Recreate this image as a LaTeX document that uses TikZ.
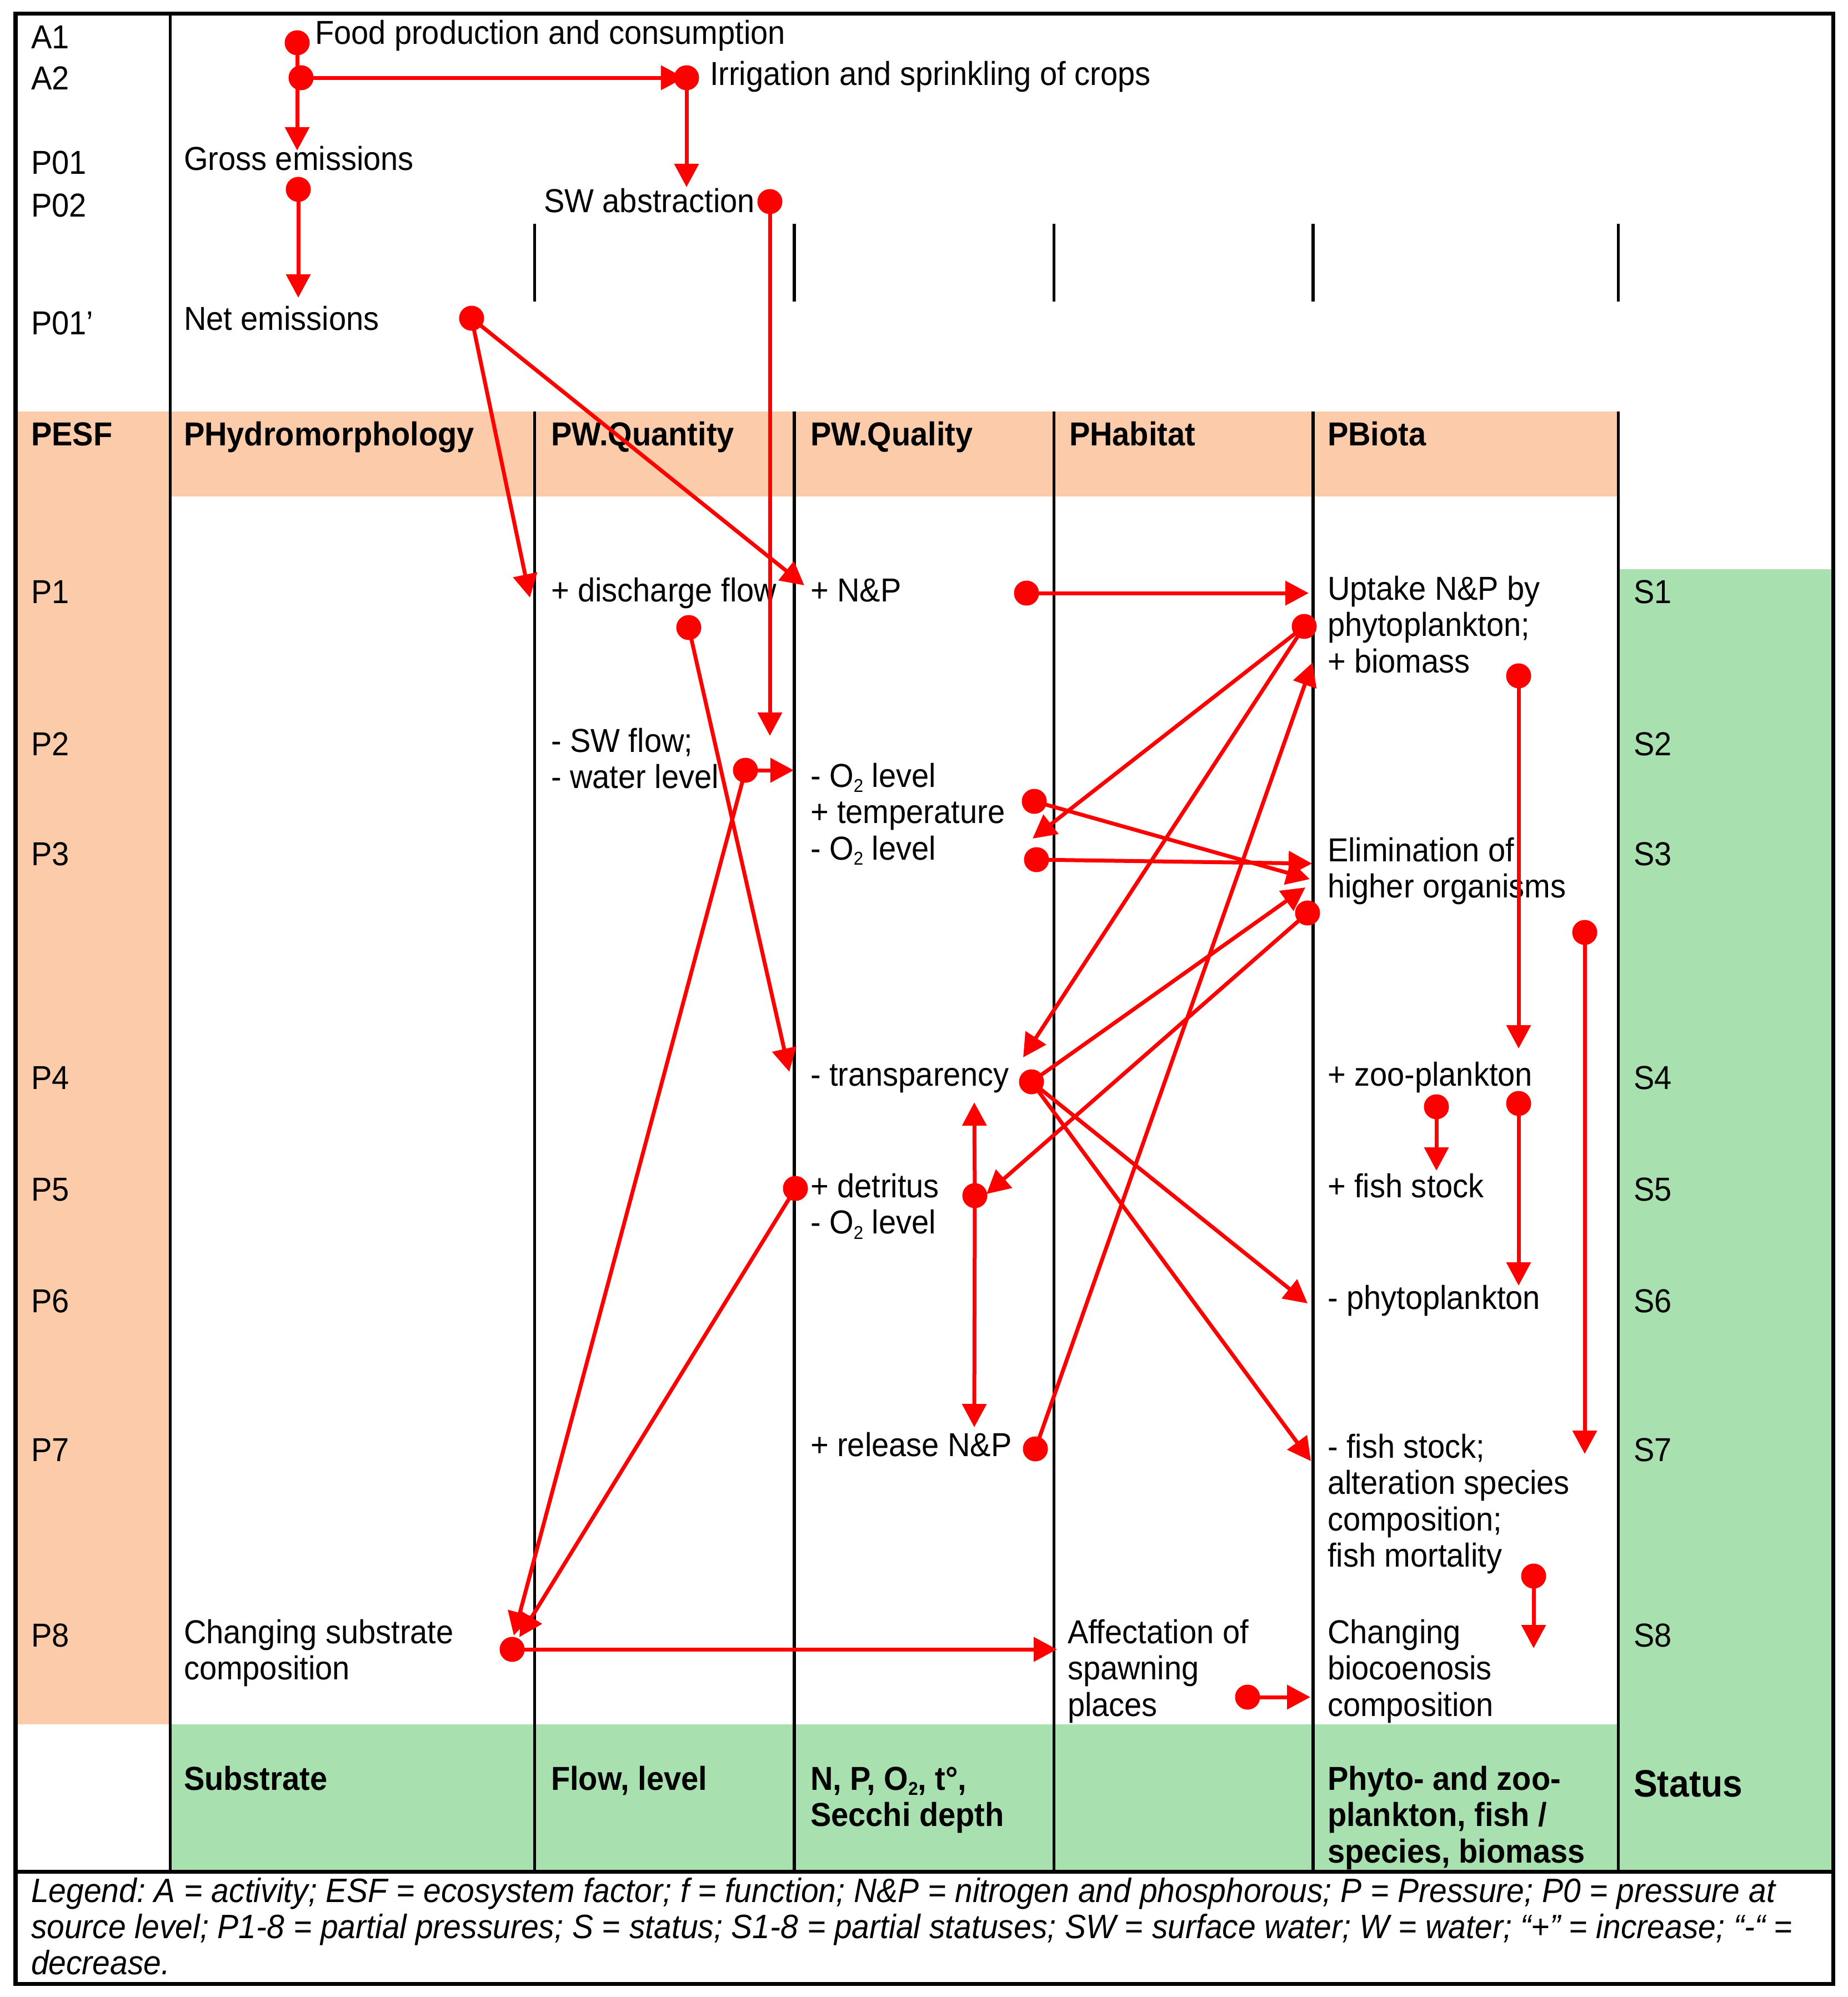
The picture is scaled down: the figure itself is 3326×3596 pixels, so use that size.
\documentclass[tikz,border=0pt]{standalone}
\usepackage{fontspec}
\setmainfont{Liberation Sans}[FakeStretch=0.937]
\usetikzlibrary{arrows.meta}
\definecolor{peach}{RGB}{252,204,170}
\definecolor{lgreen}{RGB}{168,225,175}
\definecolor{ared}{RGB}{255,0,0}
\newcommand{\mlines}[1]{\begin{tabular}[t]{@{}l@{}}#1\end{tabular}}
\newcommand{\subtwo}{\raisebox{-2.8pt}{\fontsize{9.5}{10}\selectfont 2}}
\frenchspacing
\begin{document}
\begin{tikzpicture}[x=0.01cm,y=-0.01cm,
  txt/.style={inner sep=0pt, outer sep=0pt, anchor=base west, font=\fontsize{17}{18.64}\selectfont},
  bld/.style={txt, font=\fontsize{17}{18.64}\selectfont\bfseries},
  big/.style={txt, font=\fontsize{19.5}{21}\selectfont\bfseries},
  leg/.style={txt, font=\fontsize{17.3}{18.64}\selectfont\itshape},
  colthin/.style={line width=0.05cm, black},
  colthick/.style={line width=0.065cm, black},
  frame/.style={line width=0.07cm, black},
  conn/.style={draw=ared, line width=0.07cm, -{Triangle[length=0.42cm,width=0.43cm]}},
  dot/.style={fill=ared}
]
\useasboundingbox (0,0) rectangle (3326,3596);
% backgrounds
\fill[peach] (28,741) rectangle (2913,894);
\fill[peach] (28,741) rectangle (306,3105);
\fill[lgreen] (306,3105) rectangle (2913,3370);
\fill[lgreen] (2913,1025) rectangle (3300,3370);
% column lines
\draw[colthin] (306,24) -- (306,3370);
\foreach \cx/\st in {962/colthin,1430/colthick,1897/colthin,2364/colthick,2913/colthin}{
  \draw[\st] (\cx,403) -- (\cx,543);
  \draw[\st] (\cx,741) -- (\cx,3370);
}
% row labels
\node[txt] (lA1) at (56,87) {A1};
\node[txt] (lA2) at (56,161) {A2};
\node[txt] (lP01) at (56,313) {P01};
\node[txt] (lP02) at (56,390) {P02};
\node[txt] (lP01b) at (56,602) {P01’};
\node[bld] (lPESF) at (56,802) {PESF};
\node[txt] (lP1) at (56,1086) {P1};
\node[txt] (lP2) at (56,1360) {P2};
\node[txt] (lP3) at (56,1558) {P3};
\node[txt] (lP4) at (56,1961) {P4};
\node[txt] (lP5) at (56,2162) {P5};
\node[txt] (lP6) at (56,2363) {P6};
\node[txt] (lP7) at (56,2631) {P7};
\node[txt] (lP8) at (56,2965) {P8};
% status labels
\node[txt] (lS1) at (2941,1086) {S1};
\node[txt] (lS2) at (2941,1360) {S2};
\node[txt] (lS3) at (2941,1558) {S3};
\node[txt] (lS4) at (2941,1961) {S4};
\node[txt] (lS5) at (2941,2162) {S5};
\node[txt] (lS6) at (2941,2363) {S6};
\node[txt] (lS7) at (2941,2631) {S7};
\node[txt] (lS8) at (2941,2965) {S8};
% top texts
\node[txt] (food) at (567,79) {Food production and consumption};
\node[txt] (irr) at (1278,153) {Irrigation and sprinkling of crops};
\node[txt] (gross) at (331,306) {Gross emissions};
\node[txt] (swab) at (979,382) {SW abstraction};
\node[txt] (net) at (331,594) {Net emissions};
% headers
\node[bld] (hHyd) at (331,802) {PHydromorphology};
\node[bld] (hQua) at (992,802) {PW.Quantity};
\node[bld] (hQal) at (1459,802) {PW.Quality};
\node[bld] (hHab) at (1925,802) {PHabitat};
\node[bld] (hBio) at (2390,802) {PBiota};
% cell texts
\node[txt] (disch) at (992,1083) {+ discharge flow};
\node[txt] (np) at (1459,1083) {+ N\&P};
\node[txt] (upt) at (2390,1080) {\mlines{Uptake N\&P by\\phytoplankton;\\+ biomass}};
\node[txt] (swf) at (992,1354) {\mlines{- SW flow;\\- water level}};
\node[txt] (o2a) at (1459,1417) {\mlines{- O\subtwo{} level\\+ temperature\\- O\subtwo{} level}};
\node[txt] (elim) at (2390,1551) {\mlines{Elimination of\\higher organisms}};
\node[txt] (trans) at (1459,1955) {- transparency};
\node[txt] (zoo) at (2390,1955) {+ zoo-plankton};
\node[txt] (detr) at (1459,2156) {\mlines{+ detritus\\- O\subtwo{} level}};
\node[txt] (fishp) at (2390,2156) {+ fish stock};
\node[txt] (phyto) at (2390,2357) {- phytoplankton};
\node[txt] (rel) at (1459,2622) {+ release N\&P};
\node[txt] (fishm) at (2390,2625) {\mlines{- fish stock;\\alteration species\\composition;\\fish mortality}};
\node[txt] (subs) at (331,2959) {\mlines{Changing substrate\\composition}};
\node[txt] (aff) at (1922,2959) {\mlines{Affectation of\\spawning\\places}};
\node[txt] (chg) at (2390,2959) {\mlines{Changing\\biocoenosis\\composition}};
% bottom row
\node[bld] (bSub) at (331,3223) {Substrate};
\node[bld] (bFlow) at (992,3223) {Flow, level};
\node[bld] (bNP) at (1459,3223) {\mlines{N, P, O\subtwo, t°,\\Secchi depth}};
\node[bld] (bPhy) at (2390,3223) {\mlines{Phyto- and zoo-\\plankton, fish /\\species, biomass}};
\node[big] (bStat) at (2941,3235) {Status};
% legend
\node[leg] (leg1) at (56,3425) {Legend: A = activity; ESF = ecosystem factor; f = function; N\&P = nitrogen and phosphorous; P = Pressure; P0 = pressure at};
\node[leg] (leg2) at (56,3490) {source level; P1-8 = partial pressures; S = status; S1-8 = partial statuses; SW = surface water; W = water; “+” = increase; “-“ =};
\node[leg] (leg3) at (56,3555) {decrease.};
% connector points
\coordinate (dA1) at (535,77);
\coordinate (dA2) at (542,140);
\coordinate (tGross) at (535,271);
\coordinate (dIrr) at (1236,140);
\coordinate (tIrrL) at (1232,140);
\coordinate (tSW) at (1236,337);
\coordinate (dGross) at (537,341);
\coordinate (tNet) at (537,536);
\coordinate (dSWa) at (1386,363);
\coordinate (tSWflow) at (1386,1325);
\coordinate (dNet) at (849,573);
\coordinate (tDis) at (954,1076);
\coordinate (tNP) at (1448,1054);
\coordinate (dNP) at (1848,1068);
\coordinate (tUpt) at (2356,1068);
\coordinate (dDis) at (1240,1130);
\coordinate (tTransL) at (1421,1930);
\coordinate (dWL) at (1342,1387);
\coordinate (tO2a) at (1429,1387);
\coordinate (tSub1) at (925,2945);
\coordinate (dDet) at (1432,2140);
\coordinate (tSub2) at (935,2948);
\coordinate (dTemp) at (1862,1443);
\coordinate (tElim1) at (2358,1583);
\coordinate (dO2b) at (1866,1548);
\coordinate (tElim2) at (2362,1555);
\coordinate (dUpt) at (2348,1128);
\coordinate (tO2c) at (1859,1510);
\coordinate (tTransR) at (1842,1904);
\coordinate (dRel) at (1864,2609);
\coordinate (tBio) at (2363,1193);
\coordinate (dTrans) at (1857,1948);
\coordinate (tElim3) at (2350,1598);
\coordinate (tPhyto) at (2354,2347);
\coordinate (tFish) at (2360,2631);
\coordinate (dElim) at (2354,1644);
\coordinate (tDet) at (1776,2150);
\coordinate (dDet2) at (1755,2153);
\coordinate (tUp) at (1754,1985);
\coordinate (tDown) at (1754,2570);
\coordinate (dBio) at (2734,1217);
\coordinate (tZoo) at (2734,1888);
\coordinate (dElim2) at (2853,1679);
\coordinate (tFish2) at (2853,2618);
\coordinate (dZoo1) at (2586,1993);
\coordinate (tFishP) at (2586,2108);
\coordinate (dZoo2) at (2734,1987);
\coordinate (tPhyto2) at (2734,2315);
\coordinate (dMort) at (2761,2838);
\coordinate (tChg) at (2761,2968);
\coordinate (dAff) at (2246,3056);
\coordinate (tChg2) at (2359,3056);
\coordinate (dSub) at (922,2970);
\coordinate (tAff) at (1903,2970);
% connectors
\draw[conn] (dA1) -- (tGross);
\draw[conn] (dA2) -- (tIrrL);
\draw[conn] (dIrr) -- (tSW);
\draw[conn] (dGross) -- (tNet);
\draw[conn] (dSWa) -- (tSWflow);
\draw[conn] (dNet) -- (tDis);
\draw[conn] (dNet) -- (tNP);
\draw[conn] (dNP) -- (tUpt);
\draw[conn] (dDis) -- (tTransL);
\draw[conn] (dWL) -- (tO2a);
\draw[conn] (dWL) -- (tSub1);
\draw[conn] (dDet) -- (tSub2);
\draw[conn] (dTemp) -- (tElim1);
\draw[conn] (dO2b) -- (tElim2);
\draw[conn] (dUpt) -- (tO2c);
\draw[conn] (dUpt) -- (tTransR);
\draw[conn] (dRel) -- (tBio);
\draw[conn] (dTrans) -- (tElim3);
\draw[conn] (dTrans) -- (tPhyto);
\draw[conn] (dTrans) -- (tFish);
\draw[conn] (dElim) -- (tDet);
\draw[conn] (dDet2) -- (tUp);
\draw[conn] (dDet2) -- (tDown);
\draw[conn] (dBio) -- (tZoo);
\draw[conn] (dElim2) -- (tFish2);
\draw[conn] (dZoo1) -- (tFishP);
\draw[conn] (dZoo2) -- (tPhyto2);
\draw[conn] (dMort) -- (tChg);
\draw[conn] (dAff) -- (tChg2);
\draw[conn] (dSub) -- (tAff);
% dots
\foreach \d in {dA1,dA2,dIrr,dGross,dSWa,dNet,dNP,dDis,dWL,dDet,dTemp,dO2b,dUpt,dRel,dTrans,dElim,dDet2,dBio,dElim2,dZoo1,dZoo2,dMort,dAff,dSub}{
  \fill[dot] (\d) circle[radius=0.225cm];
}
% frame
\draw[frame] (28,24) rectangle (3300,3572);
\draw[frame] (28,3370) -- (3300,3370);
\end{tikzpicture}
\end{document}
